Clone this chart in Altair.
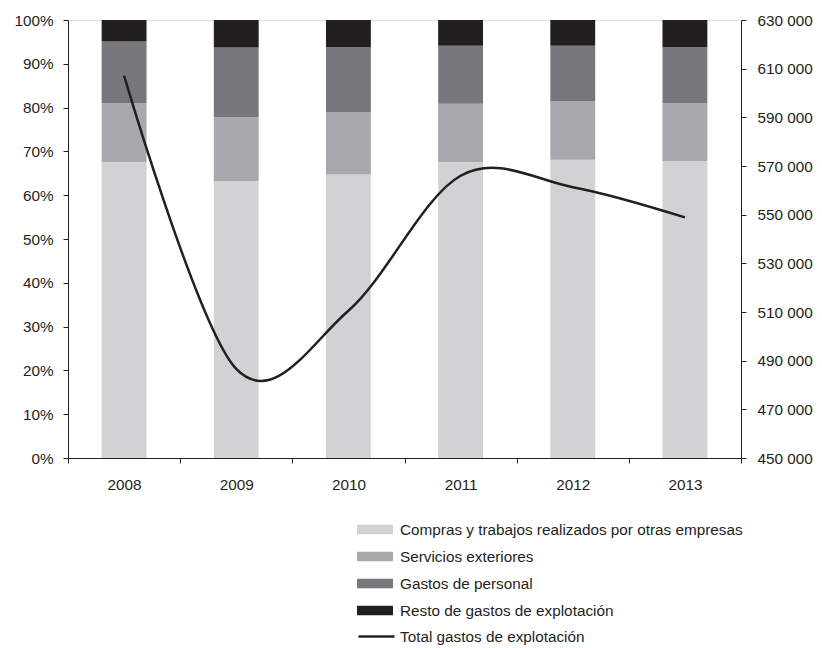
import altair as alt
import pandas as pd

years = ["2008", "2009", "2010", "2011", "2012", "2013"]
componentes = [
    "Compras y trabajos realizados por otras empresas",
    "Servicios exteriores",
    "Gastos de personal",
    "Resto de gastos de explotación",
]
compras = [67.6, 63.2, 64.7, 67.6, 68.1, 67.8]
servicios = [13.4, 14.65, 14.3, 13.3, 13.3, 13.25]
personal = [14.1, 15.85, 14.8, 13.2, 12.7, 12.75]
resto = [4.9, 6.3, 6.2, 5.9, 5.9, 6.2]
total = [607100, 486600, 510500, 566000, 561300, 548900]
serie_total = "Total gastos de explotación"

colores = ["#d1d2d4", "#a7a9ac", "#77787b", "#231f20"]
ink = "#231f20"

rows = []
for serie_idx, (name, vals) in enumerate(zip(componentes, [compras, servicios, personal, resto])):
    for y, v in zip(years, vals):
        rows.append({"anio": y, "componente": name, "orden": serie_idx, "pct": v / 100.0})
bars_df = pd.DataFrame(rows)
line_df = pd.DataFrame({"anio": years, "total": total, "serie": [serie_total] * len(years)})

xscale = alt.Scale(paddingInner=0, paddingOuter=0)
xaxis = alt.Axis(
    title=None, tickBand="extent", labelAngle=0, labelFontSize=15.3, labelPadding=14,
    tickSize=5, domainColor=ink, tickColor=ink, labelColor=ink,
)

bars = alt.Chart(bars_df).mark_bar(width=alt.RelativeBandSize(0.4)).encode(
    x=alt.X("anio:N", scale=xscale, axis=xaxis, sort=years),
    y=alt.Y(
        "pct:Q", stack="zero",
        scale=alt.Scale(domain=[0, 1], nice=False),
        axis=alt.Axis(
            title=None, format=".0%", values=[i / 10 for i in range(11)],
            tickSize=5, labelPadding=10, labelFontSize=15.3, grid=False,
            domainColor=ink, tickColor=ink, labelColor=ink,
        ),
    ),
    color=alt.Color(
        "componente:N",
        scale=alt.Scale(domain=componentes, range=colores),
        legend=alt.Legend(
            title=None, orient="none", legendX=289, legendY=501,
            symbolType="M-1,-0.27H1V0.27H-1Z", symbolSize=1296, symbolStrokeWidth=0,
            clipHeight=17, rowPadding=10, labelOffset=7, labelFontSize=15.3,
            labelColor=ink, padding=0, labelLimit=500,
        ),
    ),
    order=alt.Order("orden:Q", sort="ascending"),
)

line = alt.Chart(line_df).mark_line(interpolate="cardinal", strokeWidth=2.5).encode(
    x=alt.X("anio:N", scale=xscale, axis=xaxis, sort=years),
    y=alt.Y(
        "total:Q",
        scale=alt.Scale(domain=[450000, 630000], nice=False),
        axis=alt.Axis(
            title=None, orient="right", values=list(range(450000, 630001, 20000)),
            labelExpr="replace(format(datum.value, ',d'), ',', ' ')",
            tickSize=5, labelPadding=11, labelFontSize=15.3, grid=False,
            domainColor=ink, tickColor=ink, labelColor=ink,
        ),
    ),
    stroke=alt.Stroke(
        "serie:N",
        scale=alt.Scale(domain=[serie_total], range=[ink]),
        legend=alt.Legend(
            title=None, orient="none", legendX=289, legendY=608,
            symbolType="M-1,0H1", symbolSize=1296, symbolStrokeWidth=2.5,
            clipHeight=17, labelOffset=4, labelFontSize=15.3,
            labelColor=ink, padding=0, labelLimit=500,
        ),
    ),
)

chart = (
    alt.layer(bars, line)
    .resolve_scale(y="independent", color="independent", stroke="independent")
    .properties(width=673, height=438, padding={"left": 5, "top": 5, "right": 0, "bottom": 0})
    .configure_view(stroke=None)
    .configure(font="Liberation Sans")
    .configure_axis(domainWidth=1, tickWidth=1)
)

chart.save("out.html", embed_options={"renderer": "svg", "actions": False})
